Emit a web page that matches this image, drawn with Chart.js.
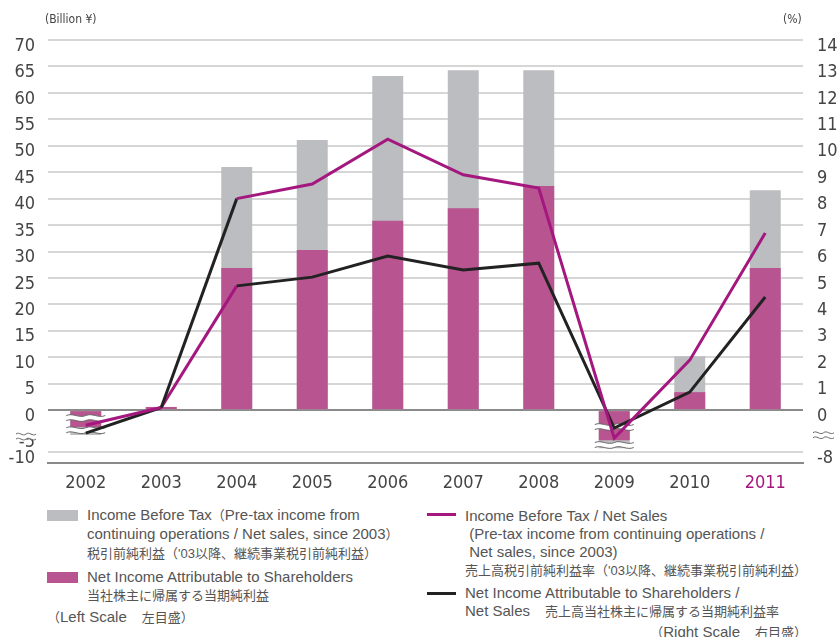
<!DOCTYPE html>
<html>
<head>
<meta charset="utf-8">
<script src="https://cdn.jsdelivr.net/npm/chart.js@4"></script>
<style>
    body { margin: 0; background: #fff; }
    #wrap { position: relative; width: 837px; height: 637px; }
    #chart-box { position: absolute; left: 0; top: 0; width: 837px; height: 500px; }
    .unit { position: absolute; top: 12px; font: 12px 'Liberation Sans Narrow', 'DejaVu Sans Condensed', sans-serif; color: #444; }
    .lg { position: absolute; font: 15px 'Liberation Sans', 'Noto Sans CJK JP', sans-serif; color: #555; line-height: 18px; white-space: nowrap; }
    .lg .jp { font-size: 13px; }
    .sw { position: absolute; width: 31px; height: 11px; }
    .ln { position: absolute; width: 29px; height: 3px; }
</style>
</head>
<body>
<div id="wrap">
    <div id="chart-box"><canvas id="chart" width="837" height="500"></canvas></div>
    <div class="unit" style="left:45px;">(Billion ¥)</div>
    <div class="unit" style="left:783px;">(%)</div>

    <div class="sw" style="left:47px; top:510px; background:#bcbdc0;"></div>
    <div class="lg" style="left:87px; top:506px;">Income Before Tax<span class="jp">（</span>Pre-tax income from<br>continuing operations / Net sales, since 2003<span class="jp">）</span><br><span class="jp">税引前純利益（'03以降、継続事業税引前純利益）</span></div>
    <div class="sw" style="left:47px; top:572px; background:#b85591;"></div>
    <div class="lg" style="left:87px; top:568px;">Net Income Attributable to Shareholders<br><span class="jp">当社株主に帰属する当期純利益</span></div>
    <div class="lg" style="left:47px; top:608px;"><span class="jp">（</span>Left Scale　<span class="jp">左目盛）</span></div>

    <div class="ln" style="left:427px; top:513px; background:#a4177e;"></div>
    <div class="lg" style="left:465px; top:507px;">Income Before Tax / Net Sales<br>&nbsp;(Pre-tax income from continuing operations /<br>&nbsp;Net sales, since 2003)<br><span class="jp">売上高税引前純利益率（'03以降、継続事業税引前純利益）</span></div>
    <div class="ln" style="left:427px; top:592px; background:#222;"></div>
    <div class="lg" style="left:465px; top:584px;">Net Income Attributable to Shareholders /<br>Net Sales　<span class="jp">売上高当社株主に帰属する当期純利益率</span></div>
    <div class="lg" style="right:30px; top:623px;"><span class="jp">（</span>Right Scale　<span class="jp">右目盛）</span></div>
</div>
<script>
// values; below zero the axes are broken, so the
// negative numbers are where the marks sit on the drawn scale
const years = ['2002', '2003', '2004', '2005', '2006', '2007', '2008', '2009', '2010', '2011'];
const incomeBeforeTax = [-4.7, 0.6, 46.0, 51.1, 63.2, 64.3, 64.3, -7.2, 10.2, 41.6];
const netIncome = [-3.2, 0.6, 26.9, 30.3, 35.8, 38.2, 42.4, -5.7, 3.4, 26.9];
const ibtRatio = [-0.57, 0.1, 8.0, 8.55, 10.25, 8.9, 8.4, -1.06, 1.89, 6.7];
const netRatio = [-0.87, 0.1, 4.7, 5.03, 5.83, 5.3, 5.56, -0.68, 0.68, 4.28];

// in the original the 2003-2004 segments have their colours swapped
const swappedSegment = 1;

// left ticks: -8 on the scale is labelled -10 (broken axis)
const leftTicks = [-8, -5, 0, 5, 10, 15, 20, 25, 30, 35, 40, 45, 50, 55, 60, 65, 70];
const leftLabels = { '-8': '-10' };
const rightTicks = [-1.6, -1, 0, 1, 2, 3, 4, 5, 6, 7, 8, 9, 10, 11, 12, 13, 14];
const rightLabels = { '-1.6': '-8', '-1': '' };

// where the break marks go (left scale values)
const barBreaks = [
    { index: 0, values: [-1.5, -3.8] },
    { index: 7, values: [-3.2, -6.6] }
];

const magenta = '#a4177e';
const black = '#222222';
const condensed = "'Liberation Sans Narrow', 'DejaVu Sans Condensed', sans-serif";

function wave(ctx, x0, x1, y) {
    const seg = (x1 - x0) / 2;
    ctx.beginPath();
    ctx.moveTo(x0, y);
    for (let i = 0; i < 2; i++) {
        const sx = x0 + i * seg;
        ctx.bezierCurveTo(sx + seg * 0.33, y - 3, sx + seg * 0.66, y + 3, sx + seg, y);
    }
    ctx.stroke();
}

function breakMark(ctx, x0, x1, y) {
    ctx.save();
    ctx.strokeStyle = '#fff';
    ctx.lineWidth = 5;
    wave(ctx, x0, x1, y);
    ctx.strokeStyle = '#666';
    ctx.lineWidth = 1;
    wave(ctx, x0, x1, y - 2.5);
    wave(ctx, x0, x1, y + 2.5);
    ctx.restore();
}

const breakPlugin = {
    id: 'breaks',
    afterDatasetDraw(chart, args) {
        if (args.index !== 1) return;
        const ctx = chart.ctx;
        const meta = chart.getDatasetMeta(0);
        barBreaks.forEach(b => {
            const bar = meta.data[b.index];
            const half = bar.width / 2 + 4;
            b.values.forEach(v => {
                breakMark(ctx, bar.x - half, bar.x + half, chart.scales.y.getPixelForValue(v));
            });
        });
    },
    afterDraw(chart) {
        const ctx = chart.ctx;
        breakMark(ctx, 16, 36, chart.scales.y.getPixelForValue(-5));
        breakMark(ctx, 813, 834, chart.scales.y1.getPixelForValue(-0.95));
    }
};

const ctx = document.getElementById('chart').getContext('2d');
new Chart(ctx, {
    type: 'bar',
    data: {
        labels: years,
        datasets: [
            {
                label: 'Income Before Tax',
                data: incomeBeforeTax,
                backgroundColor: '#bcbdc0',
                grouped: false,
                order: 2,
                yAxisID: 'y'
            },
            {
                label: 'Net Income Attributable to Shareholders',
                data: netIncome,
                backgroundColor: '#b85591',
                grouped: false,
                order: 1,
                yAxisID: 'y'
            },
            {
                type: 'line',
                label: 'Income Before Tax / Net Sales',
                data: ibtRatio,
                borderColor: magenta,
                segment: { borderColor: c => c.p0DataIndex === swappedSegment ? black : magenta },
                borderWidth: 3,
                pointRadius: 0,
                tension: 0,
                order: 0,
                yAxisID: 'y1'
            },
            {
                type: 'line',
                label: 'Net Income Attributable to Shareholders / Net Sales',
                data: netRatio,
                borderColor: black,
                segment: { borderColor: c => c.p0DataIndex === swappedSegment ? magenta : black },
                borderWidth: 3,
                pointRadius: 0,
                tension: 0,
                order: 0,
                yAxisID: 'y1'
            }
        ]
    },
    options: {
        responsive: false,
        animation: false,
        layout: { padding: { top: 40, left: 0, right: 0, bottom: 0 } },
        datasets: { bar: { categoryPercentage: 1, barPercentage: 0.41 } },
        plugins: { legend: { display: false }, tooltip: { enabled: false } },
        scales: {
            x: {
                grid: { drawOnChartArea: false, drawTicks: false },
                border: { color: '#8a8a8a', width: 2 },
                ticks: {
                    padding: 10,
                    font: { family: condensed, size: 18 },
                    color: c => c.index === 9 ? magenta : '#444'
                },
                afterFit: s => { s.height = 37; }
            },
            y: {
                position: 'left',
                min: -10,
                max: 70,
                afterBuildTicks: s => { s.ticks = leftTicks.map(v => ({ value: v })); },
                afterFit: s => { s.width = 48; },
                border: { display: false },
                grid: {
                    drawTicks: false,
                    lineWidth: 2,
                    color: c => {
                        if (!c.tick) return '#d6d6d6';
                        if (c.tick.value === 0) return '#8a8a8a';
                        if (c.tick.value === -5) return 'rgba(0,0,0,0)';
                        return '#d6d6d6';
                    }
                },
                ticks: {
                    padding: 13,
                    labelOffset: 6,
                    font: { family: condensed, size: 18 },
                    color: '#444',
                    callback: v => (String(v) in leftLabels ? leftLabels[String(v)] : v)
                }
            },
            y1: {
                position: 'right',
                min: -2,
                max: 14,
                afterBuildTicks: s => { s.ticks = rightTicks.map(v => ({ value: v })); },
                afterFit: s => { s.width = 34; },
                border: { display: false },
                grid: { drawOnChartArea: false, drawTicks: false },
                ticks: {
                    padding: 14,
                    labelOffset: 6,
                    font: { family: condensed, size: 18 },
                    color: '#444',
                    callback: v => (String(v) in rightLabels ? rightLabels[String(v)] : v)
                }
            }
        }
    },
    plugins: [breakPlugin]
});
</script>
</body>
</html>
